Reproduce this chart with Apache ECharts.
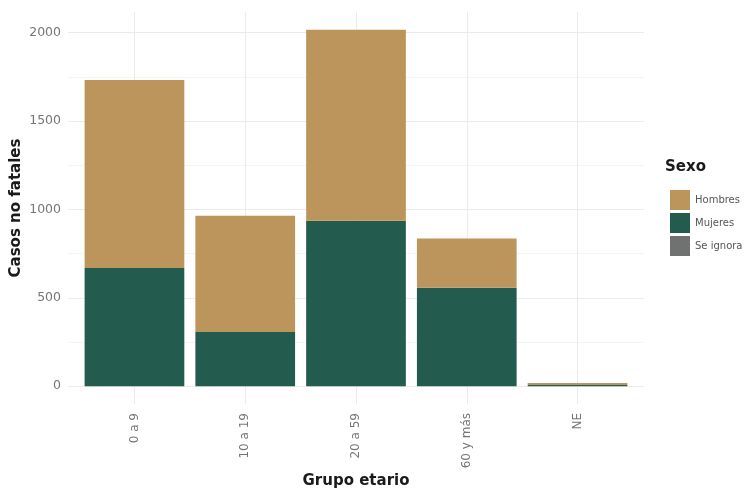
<!DOCTYPE html>
<html>
<head>
<meta charset="utf-8">
<script src="https://cdn.jsdelivr.net/npm/echarts@6/dist/echarts.min.js"></script>
<style>html,body{margin:0;padding:0;background:#fff}#c{width:745px;height:492px}</style>
</head>
<body>
<div id="c"></div>
<script>
const categories = ['0 a 9', '10 a 19', '20 a 59', '60 y más', 'NE'];
const mujeres = [668, 306, 936, 557, 6];
const hombres = [1064, 658, 1080, 279, 12];
const seIgnora = [0, 0, 0, 0, 0];
const yTicks = [0, 500, 1000, 1500, 2000];

const FONT = 'DejaVu Sans';
const total = categories.map((c, i) => mujeres[i] + hombres[i] + seIgnora[i]);
const maxTotal = Math.max(...total);
const yMin = -0.05 * maxTotal, yMax = 1.05 * maxTotal;

// panel (ggplot-like) spans 68..644; discrete expansion of 0.6 units each side
const panelL = 68, panelR = 644, panelT = 12, panelB = 404;
const unit = (panelR - panelL) / (categories.length + 0.2);
const W = 745, H = 492;

const chart = echarts.init(document.getElementById('c'));
chart.setOption({
  animation: false,
  backgroundColor: '#ffffff',
  textStyle: { fontFamily: FONT },
  grid: [
    { left: panelL + 0.1 * unit, right: W - panelR + 0.1 * unit, top: panelT, bottom: H - panelB, containLabel: false, outerBoundsMode: 'none' },
    { left: panelL, right: W - panelR, top: panelT, bottom: H - panelB, containLabel: false, outerBoundsMode: 'none' }
  ],
  xAxis: [{
    type: 'category', gridIndex: 0, data: categories,
    name: 'Grupo etario', nameLocation: 'middle', nameGap: 70, nameMoveOverlap: false,
    nameTextStyle: { fontFamily: FONT, fontWeight: 'bold', fontSize: 15, color: '#1a1a1a' },
    axisLine: { show: false }, axisTick: { show: false },
    axisLabel: { rotate: 90, fontSize: 12, color: '#757575', margin: 9 },
    splitLine: { show: false }
  }, {
    type: 'value', gridIndex: 1,
    min: 0.4, max: categories.length + 0.6,
    minInterval: 1, maxInterval: 1,
    axisLine: { show: false }, axisTick: { show: false }, axisLabel: { show: false },
    splitLine: { show: true, showMinLine: false, showMaxLine: false, lineStyle: { color: '#ebebeb', width: 1 } }
  }],
  yAxis: [{
    type: 'value', gridIndex: 0, min: yMin, max: yMax,
    axisLine: { show: false }, axisTick: { show: false }, axisLabel: { show: false },
    splitLine: { show: false }
  }, {
    type: 'value', gridIndex: 1, min: yMin, max: yMax,
    minInterval: 500, maxInterval: 500,
    name: 'Casos no fatales', nameLocation: 'middle', nameGap: 44, nameMoveOverlap: false,
    nameTextStyle: { fontFamily: FONT, fontWeight: 'bold', fontSize: 15, color: '#1a1a1a' },
    axisLine: { show: false }, axisTick: { show: false },
    axisLabel: {
      fontSize: 12.5, color: '#757575', margin: 7,
      showMinLabel: false, showMaxLabel: false,
      formatter: v => yTicks.includes(v) ? String(v) : ''
    },
    splitLine: { show: true, showMinLine: false, showMaxLine: false, lineStyle: { color: '#ebebeb', width: 1 } },
    minorTick: { show: false, splitNumber: 2 },
    minorSplitLine: { show: true, lineStyle: { color: '#f4f4f4', width: 1 } }
  }],
  legend: {
    orient: 'vertical', left: 665, top: 185,
    data: ['Hombres', 'Mujeres', 'Se ignora'],
    icon: 'rect', itemWidth: 20, itemHeight: 20, itemGap: 3,
    textStyle: { fontFamily: FONT, fontSize: 10, color: '#555' }
  },
  graphic: [{
    type: 'text', left: 665, top: 160,
    style: { text: 'Sexo', font: 'bold 15px "DejaVu Sans"', fill: '#1a1a1a' }
  }],
  series: [
    { name: 'Se ignora', type: 'bar', stack: 'a', barWidth: '90%', xAxisIndex: 0, yAxisIndex: 0, itemStyle: { color: '#6F7271' }, data: seIgnora },
    { name: 'Mujeres', type: 'bar', stack: 'a', barWidth: '90%', xAxisIndex: 0, yAxisIndex: 0, itemStyle: { color: '#235B4E' }, data: mujeres },
    { name: 'Hombres', type: 'bar', stack: 'a', barWidth: '90%', xAxisIndex: 0, yAxisIndex: 0, itemStyle: { color: '#BC955C' }, data: hombres }
  ]
});
</script>
</body>
</html>
